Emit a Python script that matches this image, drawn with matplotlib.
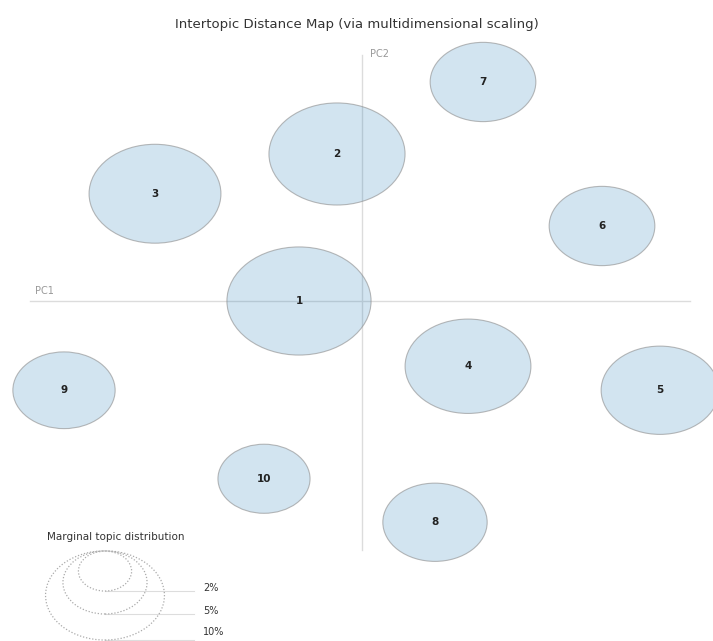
import matplotlib
matplotlib.use("Agg")
from matplotlib import pyplot as plt
from matplotlib.patches import Circle
import numpy as np

# topic positions (PC1, PC2) and marginal topic share in %
topics = np.arange(1, 11)
pc1 = np.array([-0.63, -0.25, -2.07, 1.06, 2.98, 2.40, 1.21, 0.73, -2.98, -0.98])
pc2 = np.array([0.0, 1.96, 1.43, -0.87, -1.19, 1.0, 2.92, -2.95, -1.19, -2.37])
share = np.array([14.7, 13.1, 12.3, 11.2, 9.8, 7.9, 7.9, 7.7, 7.4, 6.0])

legend_pcts = [2, 5, 10]
k = 0.188  # radius per sqrt(percent)

fig = plt.figure(figsize=(7.13, 6.41), dpi=100)
ax = fig.add_axes([0, 0, 1, 1])
ax.set_xlim(-3.62, 3.51)
ax.set_ylim(-4.533, 4.013)
ax.axis("off")

# PC axes
ax.plot([-3.32, 3.28], [0, 0], color="#dcdcdc", lw=1, zorder=1)
ax.plot([0, 0], [-3.32, 3.28], color="#dcdcdc", lw=1, zorder=1)
ax.text(-3.27, 0.07, "PC1", color="#999999", fontsize=7, ha="left", va="bottom")
ax.text(0.08, 3.22, "PC2", color="#999999", fontsize=7, ha="left", va="bottom")

for t, x, y, s in zip(topics, pc1, pc2, share):
    r = k * np.sqrt(s)
    ax.add_patch(Circle((x, y), r, facecolor=(0.12, 0.47, 0.71, 0.2),
                        edgecolor=(0.55, 0.55, 0.55, 0.6), lw=0.8, zorder=2))
    ax.text(x, y, str(t), ha="center", va="center", fontsize=7.5,
            fontweight="bold", color="#222222", zorder=3)

# size legend
cx = -2.57
bottoms = [-3.867, -4.173, -4.52]
for p, b in zip(legend_pcts, bottoms):
    r = k * np.sqrt(p)
    ax.add_patch(Circle((cx, b + r), r, fill=False, edgecolor="#aaaaaa",
                        lw=0.9, ls=(0, (1, 1.5)), zorder=2))
    ax.plot([cx, -1.68], [b, b], color="#dddddd", lw=0.8, zorder=1)
    ax.text(-1.59, max(b + 0.04, -4.41), f"{p}%", fontsize=7, color="#333333",
            ha="left", va="center")
ax.text(-3.15, -3.15, "Marginal topic distribution", fontsize=7.5, color="#333333",
        ha="left", va="center")

fig.suptitle("Intertopic Distance Map (via multidimensional scaling)",
             y=0.972, fontsize=9.5, color="#333333")

fig.savefig("out.png", dpi=100)
